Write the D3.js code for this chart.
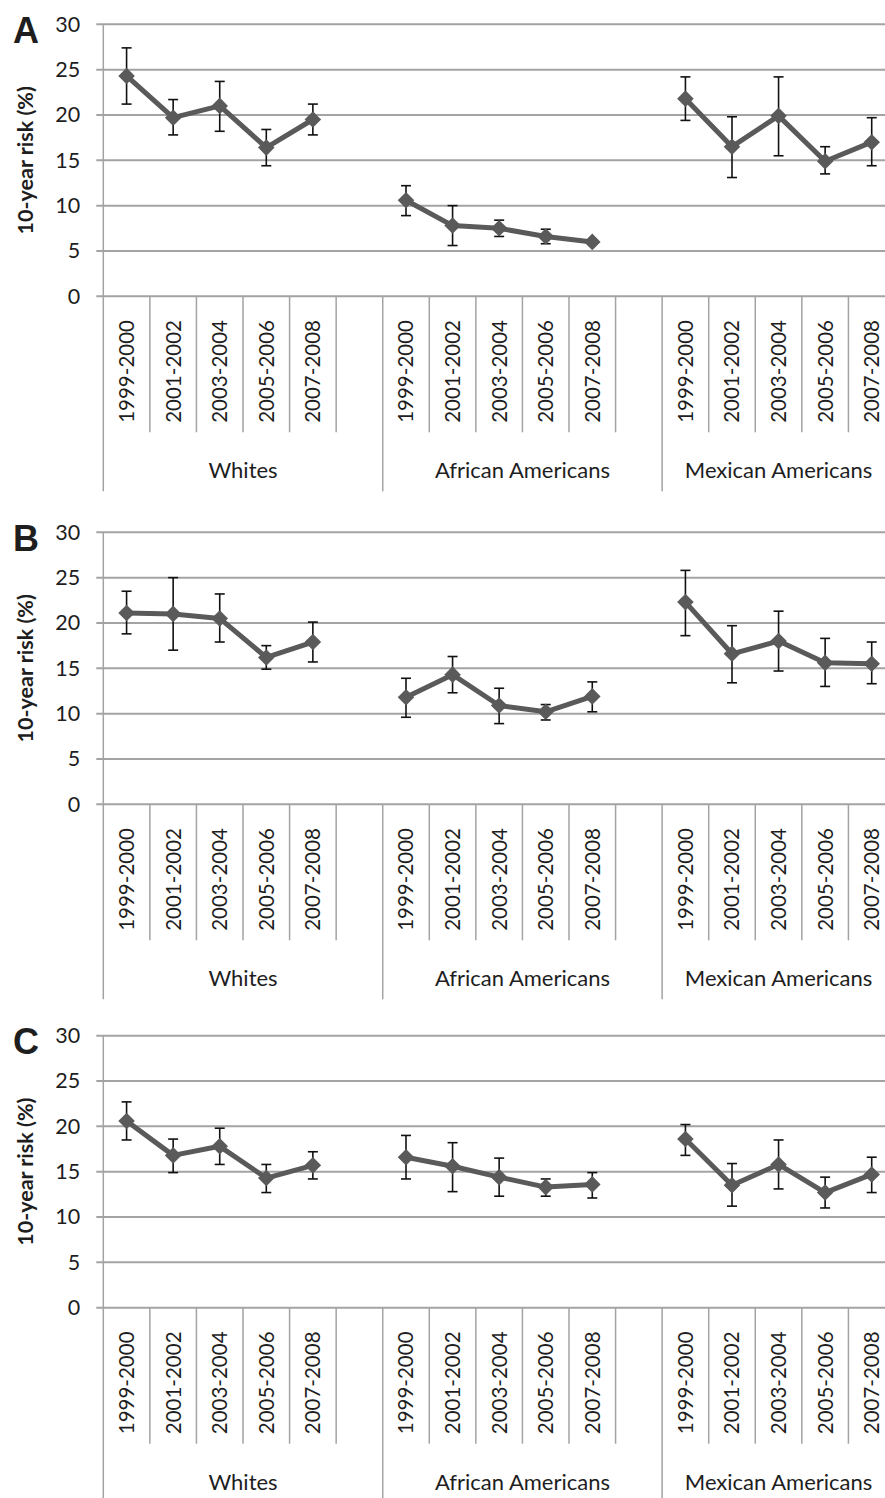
<!DOCTYPE html>
<html>
<head>
<meta charset="utf-8">
<script src="https://cdn.jsdelivr.net/npm/d3@7"></script>
<style>
  body { margin: 0; background: #fff; }
  svg { display: block; }
  text { font-family: Lato, "Open Sans", sans-serif; fill: #1e1e1e; }
</style>
</head>
<body>
<script>
// categories
const panels = ["A", "B", "C"];
const groups = ["Whites", "African Americans", "Mexican Americans"];
const periods = ["1999-2000", "2001-2002", "2003-2004", "2005-2006", "2007-2008"];
const yTicks = [0, 5, 10, 15, 20, 25, 30];

// 10-year risk (%), one row per group: Whites, African Americans, Mexican Americans
const meanA = [[24.3, 19.7, 21.0, 16.4, 19.5], [10.6, 7.8, 7.5, 6.6, 6.0], [21.8, 16.5, 19.9, 14.9, 17.0]];
const lowA  = [[21.2, 17.8, 18.2, 14.4, 17.8], [8.9, 5.6, 6.6, 5.8, 5.8], [19.4, 13.1, 15.5, 13.5, 14.4]];
const highA = [[27.4, 21.7, 23.7, 18.4, 21.2], [12.2, 10.0, 8.4, 7.4, 6.2], [24.2, 19.8, 24.2, 16.5, 19.7]];

const meanB = [[21.1, 21.0, 20.5, 16.2, 17.9], [11.8, 14.3, 10.9, 10.2, 11.9], [22.3, 16.6, 18.0, 15.6, 15.5]];
const lowB  = [[18.8, 17.0, 17.9, 14.9, 15.7], [9.6, 12.3, 8.9, 9.3, 10.2], [18.6, 13.4, 14.7, 13.0, 13.3]];
const highB = [[23.5, 25.0, 23.2, 17.5, 20.1], [13.9, 16.3, 12.8, 11.0, 13.5], [25.8, 19.7, 21.3, 18.3, 17.9]];

const meanC = [[20.6, 16.8, 17.8, 14.3, 15.7], [16.6, 15.6, 14.4, 13.3, 13.6], [18.6, 13.5, 15.8, 12.7, 14.7]];
const lowC  = [[18.5, 14.9, 15.8, 12.7, 14.2], [14.2, 12.8, 12.3, 12.3, 12.1], [16.8, 11.2, 13.1, 11.0, 12.7]];
const highC = [[22.7, 18.6, 19.8, 15.8, 17.2], [19.0, 18.2, 16.5, 14.2, 14.9], [20.2, 15.9, 18.5, 14.4, 16.6]];

const means = [meanA, meanB, meanC];
const lows = [lowA, lowB, lowC];
const highs = [highA, highB, highC];

const W = 885, H = 1498;
const x0 = 103.3, slot = 46.57;
const panelTop = [24.3, 532.3, 1035.7];
const plotH = 272;

const svg = d3.select("body").append("svg")
  .attr("width", W)
  .attr("height", H);

// 17 slots: 5 periods + a gap for the first two groups, 5 for the last
const slots = [];
groups.forEach((g, gi) => {
  periods.forEach(p => slots.push(g + "|" + p));
  if (gi < groups.length - 1) slots.push(g + "|gap");
});

const x = d3.scaleBand()
  .domain(slots)
  .range([x0, x0 + slots.length * slot])
  .paddingInner(0).paddingOuter(0);

// left and right edge of each group's span
const groupSpan = gr => {
  const own = slots.filter(s => s.startsWith(gr + "|"));
  return [x(own[0]), x(own[own.length - 1]) + x.bandwidth()];
};

const gridColor = "#a3a3a3";

panels.forEach((letter, pi) => {
  const top = panelTop[pi];
  const y = d3.scaleLinear().domain([0, 30]).range([top + plotH, top]);
  const y0 = y(0);
  const g = svg.append("g");

  // horizontal gridlines
  g.selectAll("line.grid").data(yTicks).enter().append("line")
    .attr("class", "grid")
    .attr("x1", x0 - 7).attr("x2", W)
    .attr("y1", d => y(d)).attr("y2", d => y(d))
    .attr("stroke", gridColor).attr("stroke-width", 2);

  // y axis labels
  const yAxis = d3.axisLeft(y).tickValues(yTicks).tickSize(0).tickPadding(23);
  const ya = g.append("g").attr("transform", "translate(" + x0 + ",0)").call(yAxis);
  ya.select(".domain").remove();
  ya.selectAll("text").style("font-size", "21.5px").style("font-family", "Lato, sans-serif").attr("fill", "#1e1e1e");

  // vertical axis line
  g.append("line")
    .attr("x1", x0).attr("x2", x0)
    .attr("y1", top).attr("y2", y0 + 195)
    .attr("stroke", gridColor).attr("stroke-width", 1.5);

  // category boundaries, longer ones between groups
  const bounds = slots.map(s => x(s) + x.bandwidth()).slice(0, -1);
  const groupStarts = groups.slice(1).map(gr => groupSpan(gr)[0]);
  g.selectAll("line.tick").data(bounds).enter().append("line")
    .attr("class", "tick")
    .attr("x1", d => d).attr("x2", d => d)
    .attr("y1", y0)
    .attr("y2", d => groupStarts.some(s => Math.abs(s - d) < 0.5) ? y0 + 195 : y0 + 136)
    .attr("stroke", gridColor).attr("stroke-width", 1.5);

  // rotated period labels
  g.selectAll("text.period").data(slots.filter(s => !s.endsWith("gap"))).enter().append("text")
    .attr("class", "period")
    .attr("transform", d => "translate(" + (x(d) + x.bandwidth() / 2) + "," + (y0 + 126.5) + ") rotate(-90)")
    .attr("dy", "0.36em")
    .style("font-size", "20.5px")
    .text(d => d.split("|")[1]);

  // group labels
  g.selectAll("text.group").data(groups).enter().append("text")
    .attr("class", "group")
    .attr("x", gr => d3.mean(groupSpan(gr)))
    .attr("y", y0 + 182)
    .attr("text-anchor", "middle")
    .style("font-size", "22px")
    .text(gr => gr);

  // y axis title
  g.append("text")
    .attr("transform", "translate(25," + (top + plotH / 2) + ") rotate(-90)")
    .attr("text-anchor", "middle")
    .attr("dy", "0.36em")
    .style("font-size", "21.5px").style("font-weight", "bold")
    .text("10-year risk (%)");

  // panel letter
  g.append("text")
    .attr("x", 13).attr("y", top + 18.5)
    .style("font-family", "'Liberation Sans', Arial, sans-serif")
    .style("font-size", "36px").style("font-weight", "bold")
    .attr("fill", "#000")
    .text(letter);

  // series
  groups.forEach((gr, gi) => {
    const pts = periods.map((p, k) => ({
      cx: x(gr + "|" + p) + x.bandwidth() / 2,
      m: means[pi][gi][k], lo: lows[pi][gi][k], hi: highs[pi][gi][k]
    }));

    const eb = g.append("g").attr("stroke", "#111").attr("stroke-width", 1.6);
    pts.forEach(d => {
      eb.append("line").attr("x1", d.cx).attr("x2", d.cx).attr("y1", y(d.lo)).attr("y2", y(d.hi));
      eb.append("line").attr("x1", d.cx - 5).attr("x2", d.cx + 5).attr("y1", y(d.lo)).attr("y2", y(d.lo));
      eb.append("line").attr("x1", d.cx - 5).attr("x2", d.cx + 5).attr("y1", y(d.hi)).attr("y2", y(d.hi));
    });

    g.append("path").datum(pts)
      .attr("fill", "none").attr("stroke", "#5a5a5a").attr("stroke-width", 5)
      .attr("stroke-linejoin", "round")
      .attr("d", d3.line().x(d => d.cx).y(d => y(d.m)));

    g.selectAll(null).data(pts).enter().append("path")
      .attr("transform", d => "translate(" + d.cx + "," + y(d.m) + ")")
      .attr("d", d3.symbol(d3.symbolDiamond2, 175))
      .attr("fill", "#5a5a5a");
  });
});
</script>
</body>
</html>
